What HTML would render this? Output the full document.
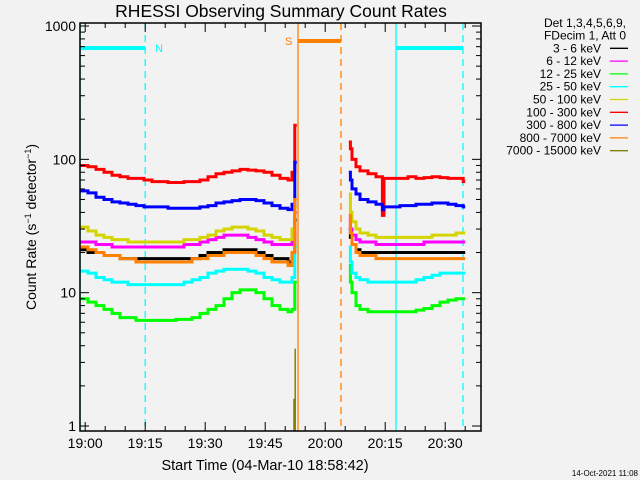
<!DOCTYPE html>
<html><head><meta charset="utf-8"><style>
body{margin:0;background:#f2f2f2;}
svg{display:block;font-family:"Liberation Sans",sans-serif;}
</style></head><body>
<svg id="chart" width="640" height="480" viewBox="0 0 640 480">
<rect x="0" y="0" width="640" height="480" fill="#f2f2f2"/>
<text x="281" y="17" font-size="17.5" text-anchor="middle" fill="#000">RHESSI Observing Summary Count Rates</text>
<text x="265" y="470" font-size="14.5" text-anchor="middle" fill="#000">Start Time (04-Mar-10 18:58:42)</text>
<text transform="translate(36,227) rotate(-90)" font-size="14" text-anchor="middle" fill="#000">Count Rate (s<tspan font-size="9" dy="-5">−1</tspan><tspan dy="5"> detector</tspan><tspan font-size="9" dy="-5">−1</tspan><tspan dy="5">)</tspan></text>
<text x="638" y="476" font-size="8" text-anchor="end" fill="#000">14-Oct-2021 11:08</text>
<g id="marks"></g>
<g id="axes"></g>
<g id="legend"></g>
</svg>
<script>
const times = [0,2,4,6,8,10,12,14,16,18,20,22,24,26,28,30,32,34,36,38,40,42,44,46,48,50,52,53,53.7,null,67.2,67.6,68,69,70,72,74,75.6,76,78,80,82,84,86,88,90,92,94,95.8];
const black   = [21,20,20,19,19,18,18,18,18,18,18,18,18,18,18,19,20,20,21,21,21,21,20,19,18,18,17,20,35,null,30,26,23,21,20,20,20,20,20,20,20,20,20,20,20,20,20,20,20];
const magenta = [24,24,23,23,22,22,22,22,22,22,22,22,22,23,23,24,25,26,27,27,27,26,25,24,23,23,23,26,40,null,35,30,27,25,24,24,23,23,23,23,23,23,23,24,24,24,24,24,24];
const green   = [9,8.5,8,7.5,7,6.5,6.5,6.2,6.2,6.2,6.2,6.2,6.3,6.3,6.5,7,7.5,8,9,10,10.5,10.5,10,9,8,7.5,7.2,7.5,12,null,16,12,10,8,7.5,7.2,7.2,7.2,7.2,7.2,7.2,7.2,7.4,7.6,8,8.5,8.8,9,9];
const cyan    = [14.5,14,13,12.5,12,12,11.5,11.5,11.5,11.5,11.5,11.5,11.5,12,12.5,13,14,14.5,15,15,15,14.5,14,13,12.5,12,12,13,22,null,22,17,14,13,12.5,12,12,12,12,12,12,12,12.5,13,13.5,14,14,14,14];
const yellow  = [31,29,27,26,25,25,24,24,24,24,24,24,24,25,25,26,27,29,30,31,31,30,29,27,26,25,25,30,44,null,55,40,34,30,28,27,26,26,26,26,26,26,26,26,27,27,27,28,28];
const red     = [90,88,84,80,76,74,72,72,70,68,68,67,67,68,68,70,74,78,80,82,84,83,82,80,76,72,70,80,180,null,135,120,100,88,82,78,74,38,72,72,72,74,72,73,74,73,72,72,68];
const blue    = [58,56,52,50,48,47,46,45,44,44,44,43,43,43,43,44,45,47,48,49,50,50,49,47,45,43,42,46,95,null,80,70,60,55,50,48,46,42,44,44,45,45,46,46,47,47,46,45,44];
const orange  = [22,21,20,19,19,18,18,17,17,17,17,17,17,17,18,18,19,19,20,20,20,20,19,18,17,17,16,20,50,null,38,28,23,20,19,19,18,18,18,18,18,18,18,18,18,18,18,18,18];
const oliveTimes = [53.5,53.8];
const olive = [1.6,3.8];
const legendLabels = ["3 - 6 keV","6 - 12 keV","12 - 25 keV","25 - 50 keV","50 - 100 keV","100 - 300 keV","300 - 800 keV","800 - 7000 keV","7000 - 15000 keV"];
const yTickValues = [1,10,100,1000];
const yTickLabels = ["1","10","100","1000"];
const xTickMinutes = [1.3,16.3,31.3,46.3,61.3,76.3,91.3];
const xTickLabels = ["19:00","19:15","19:30","19:45","20:00","20:15","20:30"];

const NS="http://www.w3.org/2000/svg";
const X0=80,X1=481,Y0=23,Y1=431;
function xs(t){return 80+4*t;}
function ys(v){return 426-133.33*Math.log10(v);}
function mk(tag,attrs,parent){const e=document.createElementNS(NS,tag);for(const k in attrs)e.setAttribute(k,attrs[k]);parent.appendChild(e);return e;}
const marks=document.getElementById('marks'),axes=document.getElementById('axes'),legend=document.getElementById('legend');

const vl=[[0,'#00ffff',false],[16.3,'#00ffff',true],[79,'#00ffff',false],[95.75,'#00ffff',true],[54.5,'#ff8000',false],[65.25,'#ff8000',true]];
vl.forEach(([t,c,d])=>{const l=mk('line',{x1:xs(t),x2:xs(t),y1:Y0,y2:Y1,stroke:c,'stroke-width':1.3},marks);if(d)l.setAttribute('stroke-dasharray','7,5');

});
[[0,16.3,48,'#00ffff'],[79,95.75,48,'#00ffff'],[54.5,65.25,41,'#ff8000']].forEach(([a,b,y,c])=>{const l=mk('line',{x1:xs(a),x2:xs(b),y1:y,y2:y,stroke:c,'stroke-width':4},marks);

});
let tN=mk('text',{x:155,y:52,'font-size':11,fill:'#00ffff'},marks);tN.textContent='N';


let tS=mk('text',{x:285,y:45,'font-size':11,fill:'#ff8000'},marks);tS.textContent='S';



function stepPath(tt,vv){let d='',pen=false;for(let i=0;i<tt.length;i++){if(tt[i]===null||vv[i]===null){pen=false;continue;}const x=xs(tt[i]),y=ys(vv[i]);if(!pen){d+='M'+x+','+y;pen=true;}else{d+='V'+y+'H'+x;}const nx=(i+1<tt.length&&tt[i+1]!==null)?xs(tt[i+1]):x+2;d+='H'+nx;}return d;}
const series=[[black,'#000000','series-3-6kev'],[magenta,'#ff00ff','series-6-12kev'],[green,'#00ff00','series-12-25kev'],[cyan,'#00ffff','series-25-50kev'],[yellow,'#d4d400','series-50-100kev'],[red,'#ff0000','series-100-300kev'],[blue,'#0000ff','series-300-800kev'],[orange,'#ff8000','series-800-7000kev']];
series.forEach(([v,c,n])=>{const p=mk('path',{d:stepPath(times,v),fill:'none',stroke:c,'stroke-width':3},marks);

});
oliveTimes.forEach((t,i)=>{const l=mk('line',{x1:xs(t),x2:xs(t),y1:Y1,y2:ys(olive[i]),stroke:'#808000','stroke-width':1.5},marks);

});

const fr=mk('rect',{x:X0,y:Y0,width:X1-X0,height:Y1-Y0,fill:'none',stroke:'#000','stroke-width':1.5},axes);


for(let dec=0;dec<3;dec++){for(let m=1;m<10;m++){const v=Math.pow(10,dec)*m;const y=ys(v);const len=m===1?9:5;
mk('line',{x1:X0,x2:X0+len,y1:y,y2:y,stroke:'#000'},axes);mk('line',{x1:X1,x2:X1-len,y1:y,y2:y,stroke:'#000'},axes);}}
mk('line',{x1:X0,x2:X0+9,y1:ys(1000),y2:ys(1000),stroke:'#000'},axes);mk('line',{x1:X1,x2:X1-9,y1:ys(1000),y2:ys(1000),stroke:'#000'},axes);
yTickValues.forEach((v,i)=>{const t=mk('text',{x:76,y:ys(v)+5,'font-size':14,'text-anchor':'end',fill:'#000'},axes);t.textContent=yTickLabels[i];

});
for(let t=1.3;t<99;t+=5){const major=xTickMinutes.some(m=>Math.abs(m-t)<0.01);const len=major?9:5;const x=xs(t);
mk('line',{x1:x,x2:x,y1:Y1,y2:Y1-len,stroke:'#000'},axes);mk('line',{x1:x,x2:x,y1:Y0,y2:Y0+len,stroke:'#000'},axes);}
xTickMinutes.forEach((m,i)=>{const t=mk('text',{x:xs(m),y:448,'font-size':14,'text-anchor':'middle',fill:'#000'},axes);t.textContent=xTickLabels[i];

});

const hdr=["Det 1,3,4,5,6,9,","FDecim 1, Att 0"];
hdr.forEach((h,i)=>{const t=mk('text',{x:626,y:27+12.7*i,'font-size':12,'text-anchor':'end',fill:'#000'},legend);t.textContent=h;

});
const lc=['#000000','#ff00ff','#00ff00','#00ffff','#d4d400','#ff0000','#0000ff','#ff8000','#808000'];
legendLabels.forEach((lab,i)=>{const y=48.3+12.8*i;const t=mk('text',{x:601,y:y+4,'font-size':12,'text-anchor':'end',fill:'#000'},legend);t.textContent=lab;


const l=mk('line',{x1:610,x2:628,y1:y,y2:y,stroke:lc[i],'stroke-width':1.3},legend);

});
</script>
</body></html>
